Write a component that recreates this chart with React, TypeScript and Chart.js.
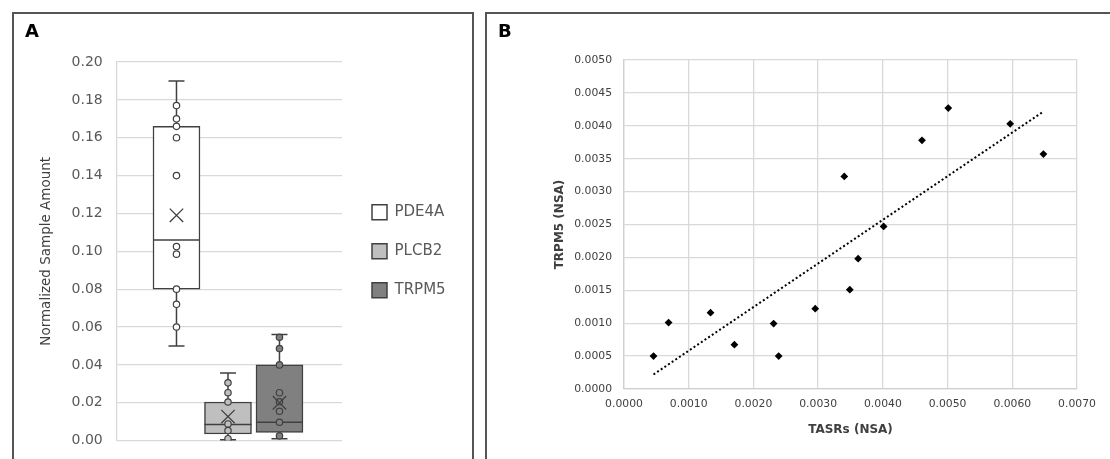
import React, { useEffect, useRef } from "react";
import { Chart, registerables } from "chart.js";

Chart.register(...registerables);

// ---------- Panel A data (box & whisker) ----------
const genes = ["PDE4A", "PLCB2", "TRPM5"];
const boxMin = [0.05, 0.0005, 0.001];
const boxQ1 = [0.08, 0.0035, 0.0043];
const boxMedian = [0.106, 0.0085, 0.0097];
const boxQ3 = [0.166, 0.0204, 0.04];
const boxMax = [0.19, 0.0357, 0.0561];
const boxMean = [0.119, 0.0127, 0.02];
const pde4aPoints = [0.177, 0.17, 0.166, 0.16, 0.14, 0.1025, 0.0985, 0.08, 0.072, 0.06];
const plcb2Points = [0.0305, 0.0253, 0.0204, 0.0088, 0.0053, 0.001];
const trpm5Points = [0.0546, 0.0486, 0.04, 0.0253, 0.0205, 0.0155, 0.0097, 0.0025];
const yTicksA = { min: 0, max: 0.2, step: 0.02 };

// ---------- Panel B data (scatter) ----------
const tasrs = [0.000456, 0.000689, 0.001337, 0.001706, 0.002312, 0.00239, 0.002955, 0.003404, 0.003489, 0.003618, 0.004012, 0.004605, 0.005011, 0.005968, 0.006481];
const trpm5 = [0.0005, 0.00101, 0.00116, 0.000673, 0.000994, 0.0005, 0.00122, 0.00323, 0.00151, 0.00198, 0.00247, 0.00378, 0.00427, 0.00403, 0.00357];
const xTicksB = { min: 0, max: 0.007, step: 0.001 };
const yTicksB = { min: 0, max: 0.005, step: 0.0005 };

const FONT = "'DejaVu Sans', sans-serif";
const boxFill = ["#ffffff", "#bfbfbf", "#808080"];
const lineCol = "#404040";

const boxPlugin = {
  id: "boxWhiskers",
  afterDatasetDraw(chart: any, args: any) {
    const i = args.index;
    if (i >= genes.length) return;
    const bar = args.meta.data[0];
    if (!bar) return;
    const y = chart.scales.y;
    const ctx = chart.ctx;
    const cx = bar.x;
    const half = bar.width / 2;
    const cap = 8;
    const pMin = y.getPixelForValue(boxMin[i]);
    const pMax = y.getPixelForValue(boxMax[i]);
    const pQ1 = y.getPixelForValue(boxQ1[i]);
    const pQ3 = y.getPixelForValue(boxQ3[i]);
    const pMed = y.getPixelForValue(boxMedian[i]);
    ctx.save();
    ctx.strokeStyle = lineCol;
    ctx.lineWidth = 1.5;
    ctx.beginPath();
    ctx.moveTo(cx, pQ3);
    ctx.lineTo(cx, pMax);
    ctx.moveTo(cx - cap, pMax);
    ctx.lineTo(cx + cap, pMax);
    ctx.moveTo(cx, pQ1);
    ctx.lineTo(cx, pMin);
    ctx.moveTo(cx - cap, pMin);
    ctx.lineTo(cx + cap, pMin);
    ctx.moveTo(cx - half, pMed);
    ctx.lineTo(cx + half, pMed);
    ctx.stroke();
    ctx.restore();
  },
};

function BoxChart() {
  const ref = useRef<HTMLCanvasElement>(null);
  useEffect(() => {
    if (!ref.current) return;
    const pointSets = [pde4aPoints, plcb2Points, trpm5Points];
    const datasets: any[] = genes.map((g, i) => ({
      type: "bar",
      label: g,
      data: [{ x: i + 1, y: [boxQ1[i], boxQ3[i]] }],
      backgroundColor: boxFill[i],
      borderColor: lineCol,
      borderWidth: 1.5,
      borderSkipped: false,
      barThickness: 47,
      grouped: false,
      order: 2,
    }));
    pointSets.forEach((pts, i) => {
      datasets.push({
        type: "scatter",
        label: genes[i] + " points",
        data: pts.map((v) => ({ x: i + 1, y: v })),
        pointRadius: 3.2,
        pointBackgroundColor: boxFill[i],
        pointBorderColor: lineCol,
        pointBorderWidth: 1.2,
        order: 1,
      });
    });
    datasets.push({
      type: "scatter",
      label: "mean",
      data: genes.map((g, i) => ({ x: i + 1, y: boxMean[i] })),
      pointStyle: "crossRot",
      pointRadius: 9.5,
      pointBorderColor: lineCol,
      pointBorderWidth: 1.3,
      order: 0,
    });
    const chart = new Chart(ref.current, {
      type: "bar",
      data: { datasets },
      options: {
        animation: false,
        responsive: false,
        layout: { padding: { left: 20, top: 48, right: 24, bottom: 22.4 } },
        scales: {
          x: { type: "linear", min: -0.161, max: 4.214, display: false, offset: false },
          y: {
            min: yTicksA.min,
            max: yTicksA.max,
            afterFit: (s: any) => {
              s.width = 82.7;
            },
            ticks: {
              stepSize: yTicksA.step,
              padding: 14,
              color: "#595959",
              font: { family: FONT, size: 14 },
              callback: (v: any) => Number(v).toFixed(2),
            },
            grid: { color: "#d9d9d9", lineWidth: 1.3, drawTicks: false },
            border: { display: true, color: "#d9d9d9", width: 1.3 },
            title: {
              display: true,
              text: "Normalized Sample Amount",
              color: "#404040",
              font: { family: FONT, size: 13.5 },
              padding: { top: 4, bottom: 10 },
            },
          },
          yR: {
            position: "right",
            display: true,
            grid: { display: false, drawTicks: false },
            border: { display: false },
            ticks: { display: false },
            afterFit: (s: any) => {
              s.width = 6;
            },
          },
        },
        plugins: {
          legend: {
            display: true,
            position: "right",
            maxWidth: 100,
            labels: {
              boxWidth: 15,
              boxHeight: 15,
              padding: 24,
              color: "#595959",
              font: { family: FONT, size: 15 },
              filter: (item: any) => item.datasetIndex < genes.length,
            },
          },
          tooltip: { enabled: false },
        },
      } as any,
      plugins: [boxPlugin],
    });
    return () => chart.destroy();
  }, []);
  return <canvas ref={ref} width={458} height={449} style={{ display: "block", width: 458, height: 449 }} />;
}

function ScatterChart() {
  const ref = useRef<HTMLCanvasElement>(null);
  useEffect(() => {
    if (!ref.current) return;
    const n = tasrs.length;
    const mx = tasrs.reduce((a, b) => a + b, 0) / n;
    const my = trpm5.reduce((a, b) => a + b, 0) / n;
    let sxy = 0;
    let sxx = 0;
    for (let i = 0; i < n; i++) {
      sxy += (tasrs[i] - mx) * (trpm5[i] - my);
      sxx += (tasrs[i] - mx) * (tasrs[i] - mx);
    }
    const slope = sxy / sxx;
    const icpt = my - slope * mx;
    const x0 = Math.min(...tasrs);
    const x1 = Math.max(...tasrs);
    const trend = [
      { x: x0, y: icpt + slope * x0 },
      { x: x1, y: icpt + slope * x1 },
    ];
    const tickFont = { family: FONT, size: 10.8 };
    const chart = new Chart(ref.current, {
      type: "scatter",
      data: {
        datasets: [
          {
            label: "TRPM5 vs TASRs",
            data: tasrs.map((x, i) => ({ x, y: trpm5[i] })),
            pointStyle: "rectRot",
            pointRadius: 3.9,
            backgroundColor: "#000000",
            borderColor: "#000000",
            borderWidth: 0,
          },
          {
            type: "line",
            label: "Linear trend",
            data: trend,
            borderColor: "#000000",
            borderWidth: 2,
            borderDash: [2, 2.4],
            pointRadius: 0,
            fill: false,
          } as any,
        ],
      },
      options: {
        animation: false,
        responsive: false,
        layout: { padding: { left: 61, top: 46, right: 33, bottom: 18 } },
        scales: {
          x: {
            type: "linear",
            min: xTicksB.min,
            max: xTicksB.max,
            afterFit: (s: any) => {
              s.height = 52;
            },
            ticks: {
              stepSize: xTicksB.step,
              padding: 9,
              color: "#404040",
              font: tickFont,
              callback: (v: any) => Number(v).toFixed(4),
            },
            grid: { color: "#d9d9d9", lineWidth: 1.3, drawTicks: false },
            border: { display: true, color: "#d0d0d0", width: 1.3 },
            title: {
              display: true,
              text: "TASRs (NSA)",
              color: "#404040",
              font: { family: FONT, size: 12, weight: "bold" },
              padding: { top: 12, bottom: 4 },
            },
          },
          y: {
            min: yTicksB.min,
            max: yTicksB.max,
            afterFit: (s: any) => {
              s.width = 76;
            },
            ticks: {
              stepSize: yTicksB.step,
              padding: 12,
              color: "#404040",
              font: tickFont,
              callback: (v: any) => Number(v).toFixed(4),
            },
            grid: { color: "#d9d9d9", lineWidth: 1.3, drawTicks: false },
            border: { display: true, color: "#d0d0d0", width: 1.3 },
            title: {
              display: true,
              text: "TRPM5 (NSA)",
              color: "#404040",
              font: { family: FONT, size: 12, weight: "bold" },
              padding: { top: 4.8, bottom: 4 },
            },
          },
        },
        plugins: {
          legend: { display: false },
          tooltip: { enabled: false },
        },
      } as any,
    });
    return () => chart.destroy();
  }, []);
  return <canvas ref={ref} width={623} height={445} style={{ display: "block", width: 623, height: 445 }} />;
}

export default function App() {
  const panelBorder = "2px solid #555555";
  return (
    <div
      style={{
        position: "absolute",
        left: 0,
        top: 0,
        width: 1110,
        height: 459,
        overflow: "hidden",
        background: "#ffffff",
        fontFamily: FONT,
      }}
    >
      <div
        style={{
          position: "absolute",
          left: 12,
          top: 12,
          width: 462,
          height: 470,
          border: panelBorder,
          borderBottom: "none",
          boxSizing: "border-box",
        }}
      />
      <div
        style={{
          position: "absolute",
          left: 485,
          top: 12,
          width: 700,
          height: 470,
          border: panelBorder,
          borderBottom: "none",
          boxSizing: "border-box",
        }}
      />
      <div style={{ position: "absolute", left: 14, top: 14 }}>
        <BoxChart />
      </div>
      <div style={{ position: "absolute", left: 487, top: 14 }}>
        <ScatterChart />
      </div>
      <div
        style={{
          position: "absolute",
          left: 25,
          top: 22,
          fontSize: 18,
          lineHeight: "18px",
          fontWeight: "bold",
          color: "#000",
        }}
      >
        A
      </div>
      <div
        style={{
          position: "absolute",
          left: 498,
          top: 22,
          fontSize: 18,
          lineHeight: "18px",
          fontWeight: "bold",
          color: "#000",
        }}
      >
        B
      </div>
    </div>
  );
}
